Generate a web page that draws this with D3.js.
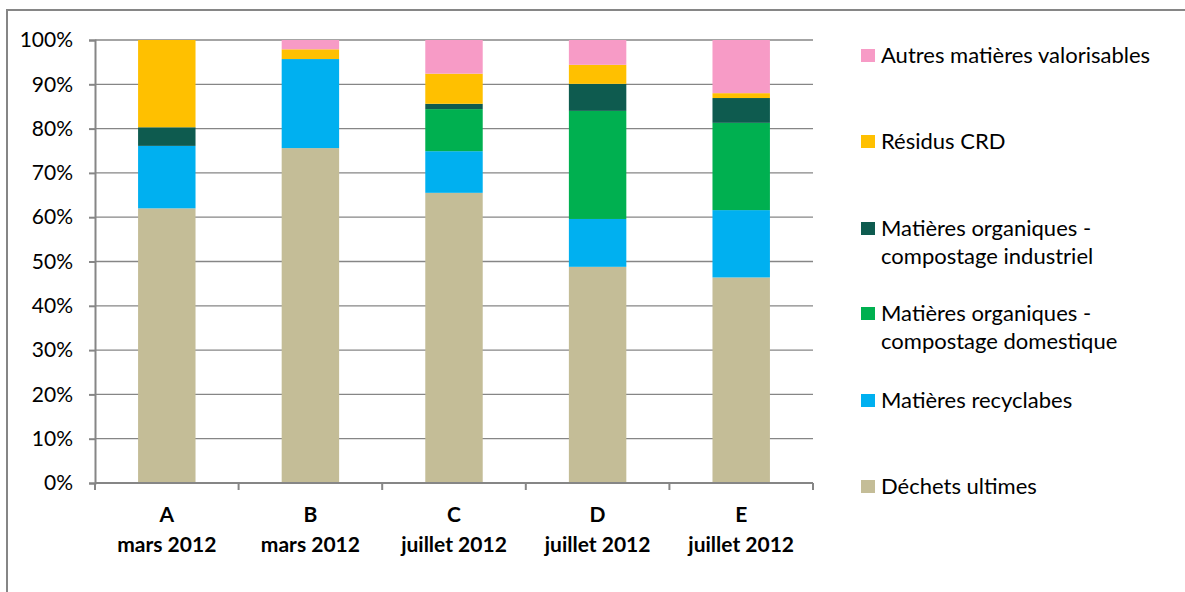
<!DOCTYPE html>
<html>
<head>
<meta charset="utf-8">
<script src="https://d3js.org/d3.v7.min.js"></script>
<style>
  body { margin: 0; background: #fff; }
  svg { display: block; font-family: Lato, "Open Sans", sans-serif; }
</style>
</head>
<body>
<div id="chart"></div>
<script>
// Categories (two-line labels)
const categories = ["A", "B", "C", "D", "E"];
const periods = ["mars 2012", "mars 2012", "juillet 2012", "juillet 2012", "juillet 2012"];

// Series, bottom to top (percent of each bar)
const seriesNames = [
  "Déchets ultimes",
  "Matières recyclabes",
  "Matières organiques - compostage domestique",
  "Matières organiques - compostage industriel",
  "Résidus CRD",
  "Autres matières valorisables"
];
const dechets      = [62.0, 75.6, 65.5, 48.8, 46.4];
const recyclables  = [14.1, 20.1,  9.4, 10.8, 15.2];
const domestique   = [ 0.0,  0.0,  9.5, 24.4, 19.7];
const industriel   = [ 4.2,  0.0,  1.2,  6.1,  5.6];
const residusCRD   = [19.7,  2.2,  6.8,  4.3,  1.1];
const autres       = [ 0.0,  2.1,  7.6,  5.6, 12.0];
const yTicks = [0, 10, 20, 30, 40, 50, 60, 70, 80, 90, 100];

const colors = ["#c4bd97", "#00b0f0", "#00b050", "#0e5b4f", "#ffc000", "#f79bc6"];

const width = 1185, height = 592;
const margin = { left: 95, top: 40, right: 372, bottom: 109 };

const svg = d3.select("#chart").append("svg")
    .attr("width", width)
    .attr("height", height);

// outer chart border
svg.append("rect")
    .attr("x", 7).attr("y", 10)
    .attr("width", width + 20).attr("height", height + 20)
    .attr("fill", "none")
    .attr("stroke", "#868686")
    .attr("stroke-width", 2);

const table = categories.map((c, i) => ({
  cat: c,
  [seriesNames[0]]: dechets[i],
  [seriesNames[1]]: recyclables[i],
  [seriesNames[2]]: domestique[i],
  [seriesNames[3]]: industriel[i],
  [seriesNames[4]]: residusCRD[i],
  [seriesNames[5]]: autres[i]
}));

const stack = d3.stack().keys(seriesNames).offset(d3.stackOffsetExpand);
const stacked = stack(table);

const x = d3.scaleBand()
    .domain(categories)
    .range([margin.left, width - margin.right])
    .paddingInner(0.6)
    .paddingOuter(0.3);

const y = d3.scaleLinear()
    .domain([0, 1])
    .range([height - margin.bottom, margin.top]);

// gridlines
svg.append("g")
  .selectAll("line")
  .data(yTicks.slice(1))
  .join("line")
    .attr("x1", margin.left).attr("x2", width - margin.right)
    .attr("y1", d => y(d / 100)).attr("y2", d => y(d / 100))
    .attr("stroke", "#868686")
    .attr("stroke-width", 1.3);

// bars
svg.append("g")
  .selectAll("g")
  .data(stacked)
  .join("g")
    .attr("fill", (d, i) => colors[i])
  .selectAll("rect")
  .data(d => d.map((v, i) => ({ v, cat: categories[i] })))
  .join("rect")
    .attr("x", d => x(d.cat))
    .attr("width", x.bandwidth())
    .attr("y", d => y(d.v[1]))
    .attr("height", d => Math.max(0, y(d.v[0]) - y(d.v[1])));

// y axis
const yAxis = svg.append("g")
    .attr("transform", `translate(${margin.left},0)`)
    .call(d3.axisLeft(y).tickValues(yTicks.map(t => t / 100))
      .tickFormat(d3.format(".0%")).tickSize(6).tickPadding(16));
yAxis.selectAll("path, line").attr("stroke", "#868686").attr("stroke-width", 2);
yAxis.selectAll("text").attr("font-size", 21).attr("fill", "#000")
    .attr("font-family", "Lato, sans-serif");

// x axis
const xEdges = d3.range(categories.length + 1).map(i =>
  margin.left + i * (width - margin.right - margin.left) / categories.length);
const xAxis = svg.append("g");
xAxis.append("line")
    .attr("x1", margin.left).attr("x2", width - margin.right)
    .attr("y1", y(0)).attr("y2", y(0))
    .attr("stroke", "#868686").attr("stroke-width", 2);
xAxis.selectAll(".tk")
  .data(xEdges)
  .join("line")
    .attr("x1", d => d).attr("x2", d => d)
    .attr("y1", y(0)).attr("y2", y(0) + 7)
    .attr("stroke", "#868686").attr("stroke-width", 2);

const xl = svg.append("g")
  .selectAll("text")
  .data(categories)
  .join("text")
    .attr("text-anchor", "middle")
    .attr("font-weight", "bold")
    .attr("font-size", 21)
    .attr("x", d => x(d) + x.bandwidth() / 2);
xl.append("tspan").attr("x", d => x(d) + x.bandwidth() / 2).attr("y", 522).text(d => d);
xl.append("tspan").attr("x", d => x(d) + x.bandwidth() / 2).attr("y", 552).text((d, i) => periods[i]);

// legend (top to bottom in reverse stacking order)
const legendItems = [
  { lines: ["Autres matières valorisables"], idx: 5, y: 63 },
  { lines: ["Résidus CRD"], idx: 4, y: 149 },
  { lines: ["Matières organiques -", "compostage industriel"], idx: 3, y: 236 },
  { lines: ["Matières organiques -", "compostage domestique"], idx: 2, y: 321 },
  { lines: ["Matières recyclabes"], idx: 1, y: 408 },
  { lines: ["Déchets ultimes"], idx: 0, y: 494 }
];
const lg = svg.append("g").selectAll("g").data(legendItems).join("g");
lg.append("rect")
    .attr("x", 861).attr("y", d => d.y - 14)
    .attr("width", 14).attr("height", 13)
    .attr("fill", d => colors[d.idx]);
lg.append("text")
    .attr("font-size", 22)
    .attr("fill", "#000")
  .selectAll("tspan")
  .data(d => d.lines.map((l, j) => ({ l, y: d.y + j * 28 })))
  .join("tspan")
    .attr("x", 881)
    .attr("y", d => d.y)
    .text(d => d.l);
</script>
</body>
</html>
